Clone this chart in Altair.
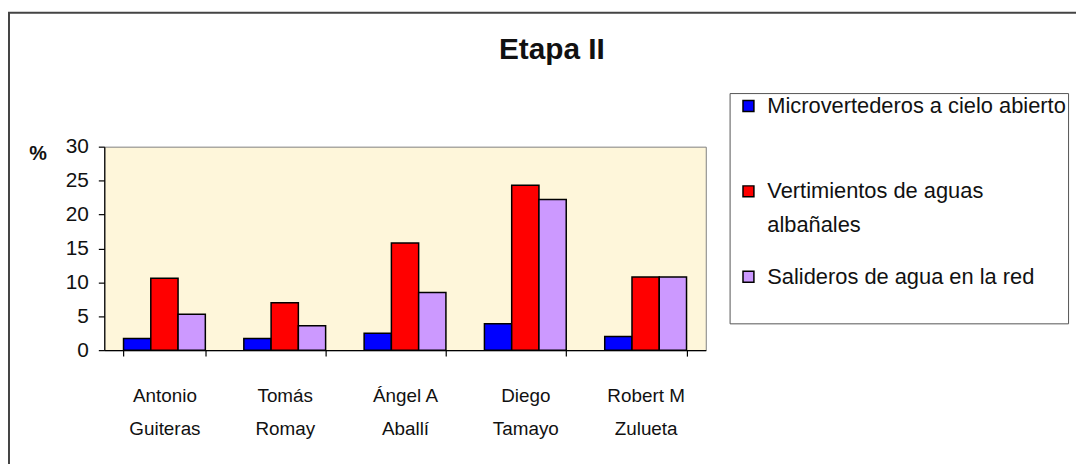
import altair as alt
import pandas as pd

categories = ["Antonio\nGuiteras", "Tomás\nRomay", "Ángel A\nAballí", "Diego\nTamayo", "Robert M\nZulueta"]
series = ["Microvertederos a cielo abierto", "Vertimientos de aguas albañales", "Salideros de agua en la red"]
micro = [1.7, 1.7, 2.5, 3.9, 2.0]
vert = [10.6, 7.0, 15.8, 24.3, 10.8]
sal = [5.3, 3.6, 8.5, 22.2, 10.8]
colors = ["#0000FF", "#FF0000", "#CC99FF"]
y_ticks = [0, 5, 10, 15, 20, 25, 30]

rows = []
for i, c in enumerate(categories):
    for s, vals in zip(series, [micro, vert, sal]):
        rows.append({"cat": c, "serie": s, "val": vals[i]})
df = pd.DataFrame(rows)

FONT = "Liberation Sans"

bars = alt.Chart(df).mark_bar(stroke="black", strokeWidth=1.5).encode(
    x=alt.X("cat:N", sort=categories, title=None,
            scale=alt.Scale(paddingInner=0.32, paddingOuter=0.16),
            axis=alt.Axis(labelExpr="split(datum.label, '\\n')", labelAngle=0,
                          labelFontSize=19, labelFont=FONT, labelColor="#111",
                          labelLineHeight=33, labelPadding=31,
                          tickBand="extent", tickSize=6, tickColor="black",
                          domainColor="black", domainWidth=1.2, tickWidth=1.2)),
    xOffset=alt.XOffset("serie:N", sort=series, scale=alt.Scale(paddingInner=0, paddingOuter=0)),
    y=alt.Y("val:Q", title="%",
            scale=alt.Scale(domain=[0, 30], nice=False),
            axis=alt.Axis(values=y_ticks, grid=False, labelFontSize=21, labelFont=FONT,
                          labelColor="#111", labelPadding=10, tickSize=6,
                          tickColor="black", domainColor="black", domainWidth=1.2,
                          tickWidth=1.2, titleAngle=0, titleFontSize=20,
                          titleFont=FONT, titleFontWeight="bold", titleAlign="left",
                          titleBaseline="middle", titleX=-76, titleY=7, titleColor="#111")),
    color=alt.Color("serie:N", sort=series, title=None,
                    scale=alt.Scale(domain=series, range=colors),
                    legend=alt.Legend(orient="none", legendX=630, legendY=-54,
                                      labelExpr="datum.label == 'Vertimientos de aguas albañales' ? ['Vertimientos de aguas', 'albañales'] : [datum.label + '        ', '']",
                                      labelFont=FONT, labelFontSize=22, labelColor="#111",
                                      labelLimit=600, labelOffset=8,
                                      symbolType="square", symbolSize=121,
                                      symbolStrokeColor="black", symbolStrokeWidth=1.5,
                                      symbolOpacity=1, symbolOffset=6,
                                      fillColor="white", strokeColor="#555",
                                      padding=2, rowPadding=30)),
)

frame = alt.Chart(alt.Data(values=[{}])).mark_rect(
    fill=None, stroke="#444", strokeWidth=2
).encode(
    x=alt.value(-96), x2=alt.value(1100), y=alt.value(-135), y2=alt.value(330)
)

chart = alt.layer(frame, bars).properties(
    width=606, height=205,
    padding={"left": 97, "top": 138, "right": 373, "bottom": 113},
    autosize=alt.AutoSizeParams(type="none"),
    title=alt.Title("Etapa II", font=FONT, fontSize=30, fontWeight="bold", color="#111",
                    anchor="middle", frame="group", dx=148, offset=-78, baseline="alphabetic"),
).configure(
    style={"guide-label": {"lineHeight": 34}}
).configure_view(
    fill="#FEF6DA", stroke="#808080", strokeWidth=1
)

chart.save("out.html", embed_options={"renderer": "svg", "actions": False})
